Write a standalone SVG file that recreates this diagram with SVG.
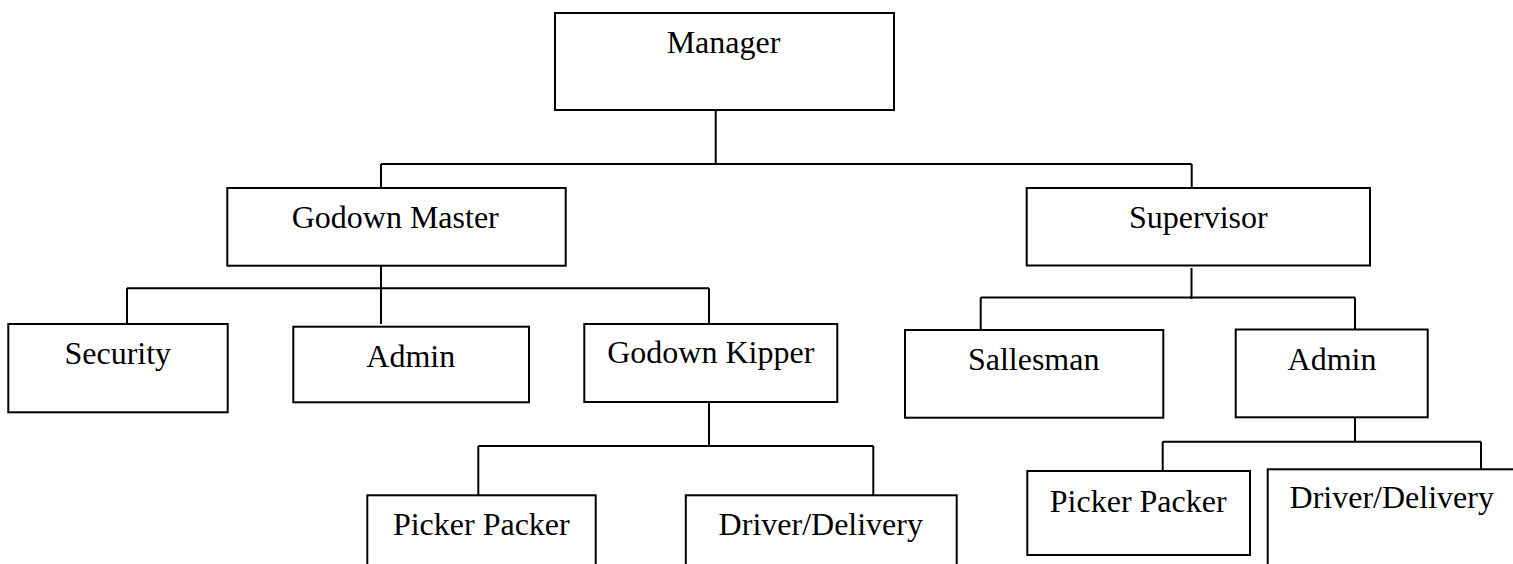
<svg xmlns="http://www.w3.org/2000/svg" width="1513" height="564" viewBox="0 0 1513 564">
<style>
.box{fill:#fff;stroke:#000;stroke-width:2}
.lbl{font-family:"Liberation Serif","Times New Roman",serif;font-size:32px;fill:#000;text-anchor:middle}
.con{fill:none;stroke:#000;stroke-width:2}
</style>
<rect width="1513" height="564" fill="#fff"/>
<g id="connectors" class="con">
<path d="M715.7 110V164M381 164H1191.7M381 164V188M1191.7 164V188"/>
<path d="M381 266V324M127 288.3H709M127 288.3V324M709 288.3V324"/>
<path d="M709 402V446M478.3 446H873.3M478.3 446V495M873.3 446V495"/>
<path d="M1191.5 268V299M980.7 297.5H1355M980.7 297.5V330M1355 297.5V329.5"/>
<path d="M1355 412.7V441.7M1162.7 441.7H1481M1162.7 441.7V471M1481 441.7V469.3"/>
</g>
<g id="manager"><rect class="box" x="555" y="13" width="339" height="97"/><text class="lbl" x="723.5" y="53.3">Manager</text></g>
<g id="godown-master"><rect class="box" x="227.3" y="188" width="338.4" height="77.7"/><text class="lbl" x="395.2" y="228">Godown Master</text></g>
<g id="supervisor"><rect class="box" x="1026.7" y="188" width="343.3" height="77.5"/><text class="lbl" x="1198.3" y="227.7">Supervisor</text></g>
<g id="security"><rect class="box" x="8.3" y="324" width="219.4" height="88.3"/><text class="lbl" x="117.8" y="364.3">Security</text></g>
<g id="admin-1"><rect class="box" x="293.3" y="326.7" width="235.7" height="75.6"/><text class="lbl" x="410.8" y="366.7">Admin</text></g>
<g id="godown-kipper"><rect class="box" x="584.3" y="324" width="253" height="78"/><text class="lbl" x="710.8" y="363.3">Godown Kipper</text></g>
<g id="sallesman"><rect class="box" x="905" y="330" width="258.3" height="87.7"/><text class="lbl" x="1033.7" y="370">Sallesman</text></g>
<g id="admin-2"><rect class="box" x="1235.7" y="329.5" width="192" height="87.8"/><text class="lbl" x="1332" y="370">Admin</text></g>
<g id="picker-packer-1"><rect class="box" x="367.3" y="495.3" width="228.4" height="80"/><text class="lbl" x="481.3" y="535">Picker Packer</text></g>
<g id="driver-delivery-1"><rect class="box" x="685.8" y="495.3" width="270.9" height="80"/><text class="lbl" x="820.8" y="535">Driver/Delivery</text></g>
<g id="picker-packer-2"><rect class="box" x="1027.3" y="471" width="222.7" height="84"/><text class="lbl" x="1138.2" y="511.7">Picker Packer</text></g>
<g id="driver-delivery-2"><rect class="box" x="1267.7" y="469.3" width="260" height="110"/><text class="lbl" x="1391.7" y="508.3">Driver/Delivery</text></g>
</svg>
